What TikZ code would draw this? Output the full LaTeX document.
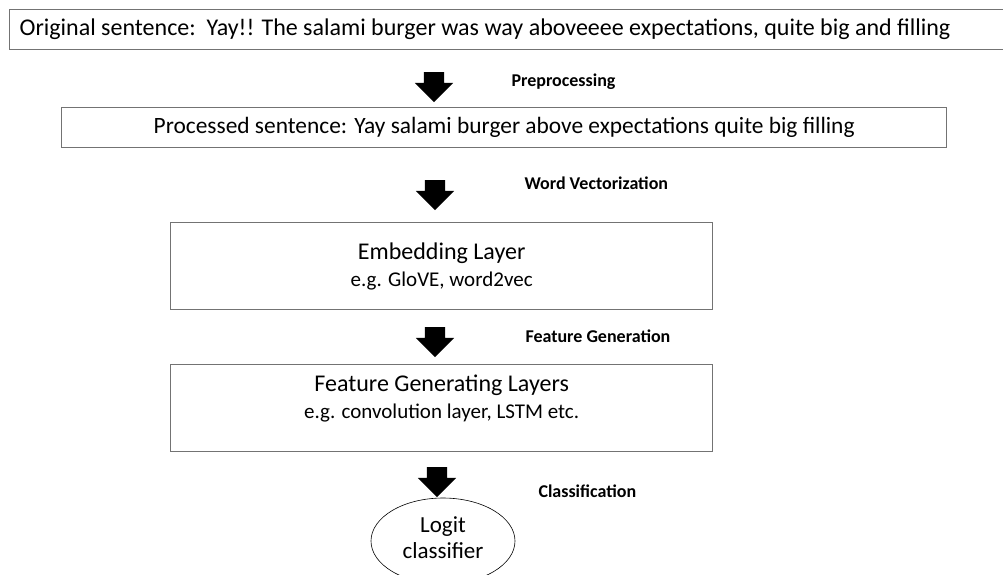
\documentclass[tikz,border=0pt]{standalone}
\usepackage{fontspec}
\setmainfont{Carlito}
\usetikzlibrary{shapes.geometric,shapes.arrows,positioning}

\begin{document}
\begin{tikzpicture}[x=1pt,y=-1pt,
  every node/.style={font=\fontsize{23}{26}\selectfont},
  sentbox/.style={draw=black!55,line width=1.3pt,minimum height=40pt,
                  inner xsep=10pt},
  layerbox/.style={draw=black!55,line width=1.3pt,minimum width=542pt,
                   minimum height=87pt,align=center,
                   font=\fontsize{24}{27}\selectfont},
  blockarrow/.style={single arrow,fill=black,rotate=-90,inner xsep=0pt,
                     inner ysep=10pt,minimum height=30pt,
                     single arrow head extend=9pt},
  steplabel/.style={anchor=west,font=\bfseries\fontsize{18}{20}\selectfont}
]
\useasboundingbox (0,0) rectangle (1003,574);
% sentences
\node[sentbox,minimum width=1010pt,anchor=north west,align=flush left,
      text width=990pt,font=\fontsize{24}{27}\selectfont] (orig) at (9,9)
  {Original sentence:\ \ Yay!! The salami burger was way aboveeee expectations, quite big and filling};
\node[sentbox,minimum width=885pt,anchor=north west,
      font=\fontsize{23.4}{27}\selectfont] (proc) at (61,107)
  {Processed sentence: Yay salami burger above expectations quite big filling};
% layers
\node[layerbox,anchor=north west] (emb) at (170,222)
  {Embedding Layer\\{\fontsize{21}{27}\selectfont e.g. GloVE, word2vec}};
\node[layerbox,anchor=north west,text depth=22pt] (feat) at (170,364)
  {Feature Generating Layers\\{\fontsize{21}{26}\selectfont e.g. convolution layer, LSTM etc.}};
\node[ellipse,draw,semithick,minimum width=144pt,minimum height=86pt,align=center,
      inner sep=0pt,text depth=6pt] (logit) at (443,541) {Logit\\classifier};
% arrows and labels
\node[blockarrow] (a1) at (434,82) {};
\node[blockarrow] (a2) at (435,190) {};
\node[blockarrow] (a3) at (435,337) {};
\node[blockarrow] (a4) at (437,477) {};
\node[steplabel] (l1) at (508,82) {Preprocessing};
\node[steplabel] (l2) at (521,183) {Word Vectorization};
\node[steplabel] (l3) at (522,336) {Feature Generation};
\node[steplabel] (l4) at (535,491) {Classification};
\end{tikzpicture}
\end{document}
